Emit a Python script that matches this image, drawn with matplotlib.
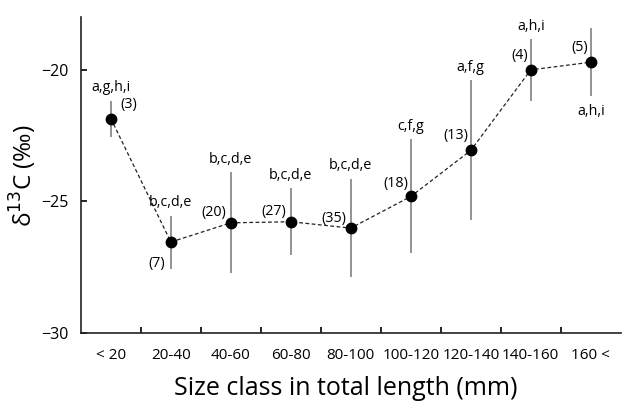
import matplotlib
matplotlib.use("Agg")
import matplotlib.pyplot as plt
import numpy as np

plt.rcParams['font.family'] = ['Open Sans', 'DejaVu Sans']

categories = ["< 20", "20-40", "40-60", "60-80", "80-100", "100-120", "120-140", "140-160", "160 <"]
means = [-21.86, -26.55, -25.82, -25.78, -26.02, -24.82, -23.07, -20.01, -19.72]
err_lo = [0.69, 1.03, 1.91, 1.25, 1.86, 2.15, 2.66, 1.19, 1.29]
err_hi = [0.68, 1.00, 1.92, 1.28, 1.88, 2.18, 2.66, 1.17, 1.30]
letters = ["a,g,h,i", "b,c,d,e", "b,c,d,e", "b,c,d,e", "b,c,d,e", "c,f,g", "a,f,g", "a,h,i", "a,h,i"]
counts = ["(3)", "(7)", "(20)", "(27)", "(35)", "(18)", "(13)", "(4)", "(5)"]

fig = plt.figure(figsize=(6.22, 4.03), dpi=100)
ax = fig.add_axes([0.130, 0.174, 0.868, 0.784])
x = np.arange(len(categories))

ax.errorbar(x, means, yerr=[err_lo, err_hi], fmt='none', ecolor='#8a8a8a', elinewidth=1.3, capsize=0, zorder=1)
ax.plot(x, means, linestyle=(0, (3, 2)), color='#222222', linewidth=0.9, zorder=2)
ax.plot(x, means, 'o', color='black', markersize=7.5, zorder=3)

fs_ann = 10.3
# letter annotations
for i, (m, lo, hi, lab) in enumerate(zip(means, err_lo, err_hi, letters)):
    if i == len(categories) - 1:
        ax.text(i, m - lo - 0.3, lab, ha='center', va='top', fontsize=fs_ann)
    else:
        ax.text(i, m + hi + 0.2, lab, ha='center', va='bottom', fontsize=fs_ann)

# count annotations (offsets in data units)
count_off = [(0.3, 0.55, 'center'), (-0.1, -0.8, 'right'), (-0.08, 0.38, 'right'),
             (-0.08, 0.38, 'right'), (-0.08, 0.38, 'right'), (-0.05, 0.5, 'right'),
             (-0.05, 0.55, 'right'), (-0.05, 0.55, 'right'), (-0.04, 0.55, 'right')]
for i, (m, c) in enumerate(zip(means, counts)):
    dx, dy, ha = count_off[i]
    ax.text(i + dx, m + dy, c, ha=ha, va='center', fontsize=fs_ann)

ax.set_xlim(-0.5, len(categories) - 0.5)
ax.set_ylim(-30, -18)
ax.set_yticks([-30, -25, -20])
ax.set_yticklabels(["\u221230", "\u221225", "\u221220"], fontsize=11.5)
ax.set_xticks(x)
ax.set_xticklabels(categories, fontsize=11)
ax.set_xticks(np.arange(0.5, len(categories) - 0.5, 1.0), minor=True)
ax.tick_params(axis='x', which='major', length=0, pad=11)
ax.tick_params(axis='x', which='minor', direction='in', length=4, width=1.2)
ax.tick_params(axis='y', direction='in', length=4, width=1.2, pad=9)

for s in ['top', 'right']:
    ax.spines[s].set_visible(False)
for s in ['left', 'bottom']:
    ax.spines[s].set_linewidth(1.2)
    ax.spines[s].set_color('#222222')

ax.set_ylabel("δ$^{13}$C (‰)", fontsize=17.5)
ax.yaxis.set_label_coords(-0.107, 0.497)
ax.yaxis.label.set_va('center')
ax.set_xlabel("Size class in total length (mm)", fontsize=18)
ax.xaxis.set_label_coords(0.49, -0.177)
ax.xaxis.label.set_va('center')

fig.savefig("out.png", dpi=100)
